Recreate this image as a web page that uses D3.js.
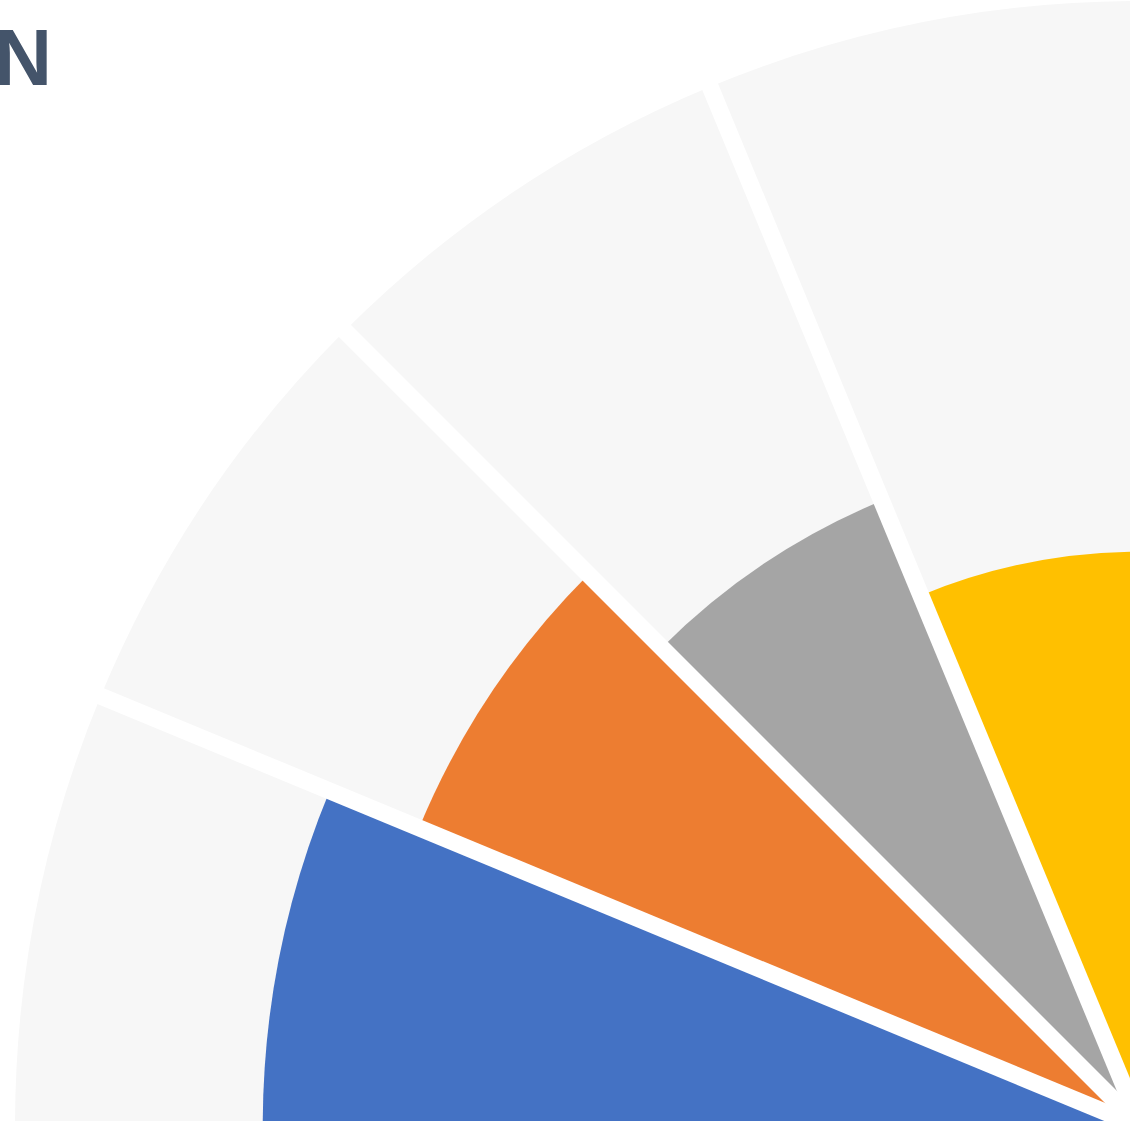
<!DOCTYPE html>
<html>
<head>
<meta charset="utf-8">
<script src="https://cdn.jsdelivr.net/npm/d3@7"></script>
<style>
  html, body { margin: 0; padding: 0; background: #ffffff; overflow: hidden; }
  svg { display: block; }
</style>
</head>
<body>
<svg id="chart" width="1130" height="1121"></svg>
<script>
// ---- data ----
const categories = ["A", "B", "C", "D"];
const values = [78.0, 69.4, 60.2, 51.1];
const maxValue = 100;
const colors = ["#4472c4", "#ed7d31", "#a5a5a5", "#ffc000"];
const titleText = "N";

// ---- layout ----
const cx = 1141, cy = 1127;
const outerR = 1126;
const gapWidth = 17;
const svg = d3.select("#chart");

const angle = d3.scaleBand()
  .domain(categories)
  .range([-Math.PI / 2, 0]);

const r = d3.scaleLinear().domain([0, maxValue]).range([0, outerR]);

const g = svg.append("g").attr("transform", `translate(${cx},${cy})`);

const arcBg = d3.arc()
  .innerRadius(0)
  .outerRadius(r(maxValue))
  .startAngle(d => angle(d))
  .endAngle(d => angle(d) + angle.bandwidth());

g.selectAll("path.bg")
  .data(categories)
  .join("path")
  .attr("class", "bg")
  .attr("d", arcBg)
  .attr("fill", "#f7f7f7");

const arcVal = d3.arc()
  .innerRadius(0)
  .outerRadius((d, i) => r(values[i]))
  .startAngle(d => angle(d))
  .endAngle(d => angle(d) + angle.bandwidth());

g.selectAll("path.bar")
  .data(categories)
  .join("path")
  .attr("class", "bar")
  .attr("d", arcVal)
  .attr("fill", (d, i) => colors[i]);

// white separators between sectors
const boundaries = categories.slice(1).map(c => angle(c));
g.selectAll("line.sep")
  .data(boundaries)
  .join("line")
  .attr("class", "sep")
  .attr("x1", 0).attr("y1", 0)
  .attr("x2", a => Math.sin(a) * (outerR + 4))
  .attr("y2", a => -Math.cos(a) * (outerR + 4))
  .attr("stroke", "#ffffff")
  .attr("stroke-width", gapWidth)
  .attr("stroke-linecap", "butt");

svg.append("text")
  .attr("x", 52)
  .attr("y", 85)
  .attr("text-anchor", "end")
  .attr("font-family", "Liberation Sans, Arial, sans-serif")
  .attr("font-weight", "bold")
  .attr("font-size", 80)
  .attr("fill", "#44546a")
  .text(titleText);
</script>
</body>
</html>
